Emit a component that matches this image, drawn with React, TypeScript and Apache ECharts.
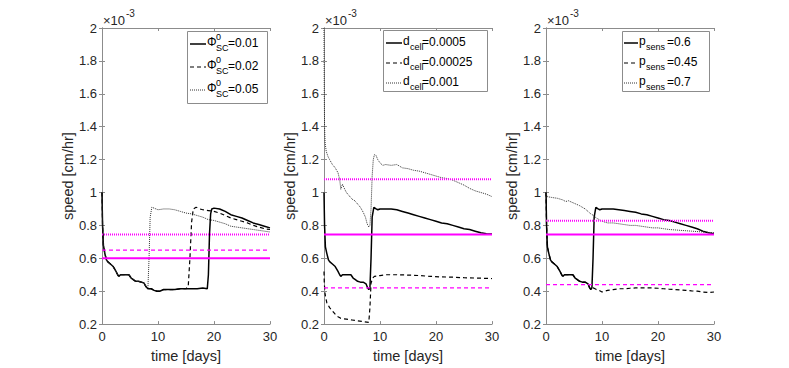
import React, { useEffect, useRef } from 'react';
import * as echarts from 'echarts';

// ---------- data (speed in units of 1e-3 cm/hr, time in days) ----------
const xTicks = [0, 10, 20, 30];
const yMin = 0.2;
const yMax = 2;

// Panel 1: Phi0_SC
const p1Solid = [[0,1.0],[0.1,0.8],[0.25,0.68],[0.5,0.63],[0.8,0.59],[1,0.58],[1.5,0.565],[2,0.55],[2.5,0.52],[2.8,0.5],[3,0.49],[3.3,0.5],[4,0.5],[4.8,0.5],[5.2,0.48],[5.6,0.47],[6,0.46],[6.5,0.46],[7,0.455],[7.5,0.45],[7.8,0.43],[8.2,0.415],[8.8,0.415],[9.3,0.405],[9.8,0.4],[10.3,0.4],[11,0.41],[12,0.41],[13,0.41],[14,0.415],[15,0.415],[16,0.415],[17,0.415],[18,0.42],[18.8,0.415],[19.0,0.5],[19.2,0.75],[19.4,0.87],[19.6,0.9],[20,0.905],[21,0.9],[22,0.885],[23,0.865],[24,0.855],[25,0.845],[26,0.83],[27,0.815],[28,0.805],[29,0.795],[30,0.785]];
const p1Dashed = [[0,1.0],[0.1,0.8],[0.25,0.68],[0.5,0.63],[0.8,0.59],[1,0.58],[1.5,0.565],[2,0.55],[2.5,0.52],[2.8,0.5],[3,0.49],[3.3,0.5],[4,0.5],[4.8,0.5],[5.2,0.48],[5.6,0.47],[6,0.46],[6.5,0.46],[7,0.455],[7.5,0.45],[7.8,0.43],[8.2,0.415],[8.8,0.415],[9.3,0.405],[9.8,0.4],[10.3,0.4],[11,0.41],[12,0.41],[13,0.41],[14,0.415],[15,0.415],[15.4,0.43],[15.7,0.6],[16.0,0.82],[16.3,0.9],[16.8,0.91],[17.5,0.9],[18,0.895],[19,0.89],[20,0.885],[21,0.875],[22,0.86],[23,0.845],[24,0.835],[25,0.825],[26,0.815],[27,0.8],[28,0.79],[29,0.78],[30,0.775]];
const p1Dotted = [[0,1.0],[0.1,0.8],[0.25,0.68],[0.5,0.63],[0.8,0.59],[1,0.58],[1.5,0.565],[2,0.55],[2.5,0.52],[2.8,0.5],[3,0.49],[3.3,0.5],[4,0.5],[4.8,0.5],[5.2,0.48],[5.6,0.47],[6,0.46],[6.5,0.46],[7,0.455],[7.5,0.45],[7.8,0.43],[8.2,0.42],[8.4,0.6],[8.6,0.85],[8.9,0.91],[9.3,0.905],[10,0.895],[11,0.9],[12,0.9],[13,0.895],[14,0.885],[15,0.875],[16,0.87],[17,0.86],[18,0.85],[19,0.835],[20,0.83],[21,0.82],[22,0.81],[23,0.795],[24,0.79],[25,0.785],[26,0.78],[27,0.775],[28,0.77],[29,0.765],[30,0.76]];
const p1Levels = [0.6, 0.65, 0.745];

// Panel 2: d_cell
const p2Solid = [[0,1.0],[0.1,0.8],[0.25,0.67],[0.5,0.63],[0.8,0.59],[1,0.58],[1.5,0.565],[2,0.55],[2.5,0.52],[2.8,0.5],[3,0.49],[3.3,0.5],[4,0.5],[4.8,0.5],[5.2,0.48],[5.6,0.47],[6,0.46],[6.5,0.455],[7,0.455],[7.5,0.445],[7.8,0.42],[8,0.41],[8.2,0.42],[8.4,0.6],[8.6,0.85],[8.9,0.91],[9.3,0.9],[9.6,0.895],[10,0.9],[11,0.9],[12,0.9],[13,0.895],[14,0.885],[15,0.875],[16,0.865],[17,0.855],[18,0.845],[19,0.835],[20,0.825],[21,0.815],[22,0.81],[23,0.8],[24,0.79],[25,0.78],[26,0.775],[27,0.765],[28,0.755],[29,0.75],[30,0.748]];
const p2Dashed = [[0,0.52],[0.05,0.45],[0.2,0.38],[0.5,0.33],[1,0.3],[1.5,0.28],[2,0.26],[2.5,0.245],[3,0.235],[4,0.23],[5,0.225],[6,0.22],[7,0.215],[8,0.21],[8.2,0.3],[8.4,0.45],[8.7,0.48],[9,0.49],[10,0.495],[11,0.5],[13,0.5],[15,0.498],[17,0.495],[19,0.49],[21,0.487],[23,0.485],[25,0.482],[27,0.48],[30,0.477]];
const p2Dotted = [[0,2.0],[0.05,1.6],[0.1,1.4],[0.2,1.3],[0.4,1.25],[0.7,1.22],[1,1.2],[1.5,1.17],[2,1.15],[2.5,1.12],[2.8,1.08],[3,1.02],[3.3,1.05],[3.7,1.02],[4,1.0],[4.5,0.98],[5,0.96],[5.5,0.95],[6,0.93],[6.5,0.91],[7,0.88],[7.4,0.85],[7.7,0.81],[8,0.79],[8.2,0.8],[8.4,0.9],[8.6,1.1],[8.8,1.2],[9,1.23],[9.3,1.225],[9.6,1.2],[10,1.18],[10.5,1.165],[11,1.17],[12,1.165],[13,1.17],[14,1.15],[15,1.145],[16,1.135],[17,1.13],[18,1.12],[19,1.11],[20,1.1],[21,1.09],[22,1.085],[23,1.075],[24,1.06],[25,1.045],[26,1.025],[27,1.01],[28,1.0],[29,0.99],[30,0.975]];
const p2Levels = [0.745, 0.42, 1.08];

// Panel 3: p_sens
const p3Solid = [[0,1.0],[0.1,0.8],[0.25,0.67],[0.5,0.63],[0.8,0.59],[1,0.58],[1.5,0.565],[2,0.55],[2.5,0.52],[2.8,0.5],[3,0.49],[3.3,0.5],[4,0.5],[4.8,0.5],[5.2,0.48],[5.6,0.47],[6,0.46],[6.5,0.455],[7,0.455],[7.5,0.445],[7.8,0.42],[8,0.41],[8.2,0.42],[8.4,0.6],[8.6,0.85],[8.9,0.91],[9.3,0.9],[9.6,0.895],[10,0.9],[11,0.9],[12,0.9],[13,0.895],[14,0.89],[15,0.885],[16,0.88],[17,0.87],[18,0.865],[19,0.855],[20,0.845],[21,0.835],[22,0.83],[23,0.82],[24,0.81],[25,0.8],[26,0.79],[27,0.78],[28,0.765],[29,0.755],[30,0.75]];
const p3Dashed = [[0,1.0],[0.1,0.8],[0.25,0.67],[0.5,0.63],[0.8,0.59],[1,0.58],[1.5,0.565],[2,0.55],[2.5,0.52],[2.8,0.5],[3,0.49],[3.3,0.5],[4,0.5],[4.8,0.5],[5.2,0.48],[5.6,0.47],[6,0.46],[6.5,0.455],[7,0.455],[7.5,0.445],[7.8,0.42],[8,0.415],[8.5,0.42],[9,0.41],[9.5,0.405],[10,0.395],[10.5,0.4],[11,0.405],[12,0.41],[13,0.415],[14,0.415],[15,0.418],[16,0.42],[17,0.42],[18,0.42],[19,0.42],[20,0.418],[21,0.415],[22,0.412],[23,0.41],[24,0.408],[25,0.405],[26,0.402],[27,0.4],[28,0.395],[29,0.392],[30,0.395]];
const p3Dotted = [[0,1.0],[0.2,0.975],[1,0.97],[2,0.965],[3,0.955],[3.5,0.945],[4,0.95],[5,0.935],[6,0.92],[7,0.9],[7.5,0.885],[8,0.87],[8.5,0.86],[9,0.845],[9.5,0.835],[10,0.825],[11,0.815],[12,0.815],[13,0.81],[14,0.805],[15,0.8],[16,0.8],[17,0.795],[18,0.79],[19,0.785],[20,0.785],[21,0.78],[22,0.775],[24,0.77],[26,0.765],[28,0.76],[30,0.755]];
const p3Levels = [0.745, 0.44, 0.828];

const legendBase = ['Φ', 'd', 'p'];
const legendSup = ['0', '', ''];
const legendSub = ['SC', 'cell', 'sens'];
const legendVals = [
  ['=0.01', '=0.02', '=0.05'],
  ['=0.0005', '=0.00025', '=0.001'],
  ['=0.6', '=0.45', '=0.7'],
];

const FONT = '"Liberation Sans", Arial, Helvetica, sans-serif';
const AXIS_COLOR = '#8c8c8c';
const TEXT_COLOR = '#262626';
const TICK_FS = 13;
const NAME_FS = 14.5;
const LEG_FS = 12;
const SUB_FS = 9;

const curves = [
  [p1Solid, p1Dashed, p1Dotted],
  [p2Solid, p2Dashed, p2Dotted],
  [p3Solid, p3Dashed, p3Dotted],
];
const levels = [p1Levels, p2Levels, p3Levels];

const gridLefts = [102, 324, 546];
const GRID_TOP = 28;
const GRID_W = 168;
const GRID_H = 299;

const blackStyles = [
  { color: '#000', width: 1.5, type: 'solid' as any },
  { color: '#000', width: 1.2, type: [4, 3] as any },
  { color: '#333', width: 1, type: [1, 1] as any },
];
const magentaStyles = [
  { color: '#ff00ff', width: 2, type: 'solid' as any },
  { color: '#ff00ff', width: 1.2, type: [4, 3] as any },
  { color: '#ff00ff', width: 2, type: [1, 1] as any },
];

const legendBoxes = [
  { x: 187, y: 31, w: 80, h: 72, rows: [44, 67, 90], lx1: 190, lx2: 206, bx: 207, sx: 216, vx: 228 },
  { x: 383, y: 30, w: 104, h: 61, rows: [43, 63, 83], lx1: 386, lx2: 402, bx: 403, sx: 410, vx: 422 },
  { x: 622, y: 31, w: 87, h: 60, rows: [43, 63, 83], lx1: 624, lx2: 638, bx: 639, sx: 646, vx: 667 },
];

function buildOption() {
  const grid: any[] = [];
  const xAxis: any[] = [];
  const yAxis: any[] = [];
  const series: any[] = [];
  const graphic: any[] = [];

  for (let i = 0; i < 3; i++) {
    grid.push({ left: gridLefts[i], top: GRID_TOP, width: GRID_W, height: GRID_H, containLabel: false });
    const common = {
      type: 'value',
      gridIndex: i,
      splitLine: { show: false },
      axisLine: { show: true, lineStyle: { color: AXIS_COLOR, width: 1 } },
      axisTick: { show: true, inside: true, length: 3, lineStyle: { color: AXIS_COLOR } },
    };
    xAxis.push({
      ...common,
      position: 'bottom',
      min: xTicks[0],
      max: xTicks[xTicks.length - 1],
      interval: 10,
      axisLabel: { color: TEXT_COLOR, fontSize: TICK_FS, fontFamily: FONT, margin: 6 },
      name: 'time [days]',
      nameLocation: 'middle',
      nameGap: 23,
      nameTextStyle: { color: TEXT_COLOR, fontSize: NAME_FS, fontFamily: FONT },
    });
    xAxis.push({
      ...common,
      position: 'top',
      min: xTicks[0],
      max: xTicks[xTicks.length - 1],
      interval: 10,
      axisLabel: { show: false },
    });
    yAxis.push({
      ...common,
      position: 'left',
      min: yMin,
      max: yMax,
      interval: 0.2,
      axisLabel: {
        color: TEXT_COLOR, fontSize: TICK_FS, fontFamily: FONT, margin: 5,
        formatter: (v: number) => String(parseFloat(v.toFixed(1))),
      },
      name: 'speed [cm/hr]',
      nameLocation: 'middle',
      nameGap: 25,
      nameTextStyle: { color: TEXT_COLOR, fontSize: NAME_FS, fontFamily: FONT },
    });
    yAxis.push({
      ...common,
      position: 'right',
      min: yMin,
      max: yMax,
      interval: 0.2,
      axisLabel: { show: false },
    });

    curves[i].forEach((d, k) => {
      series.push({
        type: 'line',
        name: `p${i}c${k}`,
        xAxisIndex: 2 * i,
        yAxisIndex: 2 * i,
        data: d,
        showSymbol: false,
        symbol: 'none',
        lineStyle: blackStyles[k],
        z: 2 + k,
        silent: true,
      });
    });
    levels[i].forEach((lv, k) => {
      series.push({
        type: 'line',
        name: `p${i}m${k}`,
        xAxisIndex: 2 * i,
        yAxisIndex: 2 * i,
        data: [[xTicks[0], lv], [xTicks[xTicks.length - 1], lv]],
        showSymbol: false,
        symbol: 'none',
        lineStyle: magentaStyles[k],
        z: 6,
        silent: true,
      });
    });

    // x10^-3 label
    graphic.push({
      type: 'text', x: gridLefts[i] + 1, y: 20, z: 100,
      style: { text: '×10', fontSize: TICK_FS, fontFamily: FONT, fill: TEXT_COLOR, verticalAlign: 'middle', align: 'left' },
    });
    graphic.push({
      type: 'text', x: gridLefts[i] + 24, y: 13, z: 100,
      style: { text: '-3', fontSize: 10, fontFamily: FONT, fill: TEXT_COLOR, verticalAlign: 'middle', align: 'left' },
    });

    // legend
    const L = legendBoxes[i];
    graphic.push({
      type: 'rect', z: 100,
      shape: { x: L.x + 0.5, y: L.y + 0.5, width: L.w, height: L.h },
      style: { fill: '#fff', stroke: '#8c8c8c', lineWidth: 1 },
    });
    L.rows.forEach((ry, k) => {
      const st = blackStyles[k];
      graphic.push({
        type: 'line', z: 101,
        shape: { x1: L.lx1, y1: ry, x2: L.lx2, y2: ry },
        style: { stroke: st.color, lineWidth: st.width, lineDash: Array.isArray(st.type) ? st.type : null },
      });
      graphic.push({
        type: 'text', x: L.bx, y: ry - 2, z: 101,
        style: { text: legendBase[i], fontSize: LEG_FS, fontFamily: FONT, fill: '#000', verticalAlign: 'middle', align: 'left' },
      });
      if (legendSup[i]) {
        graphic.push({
          type: 'text', x: L.sx, y: ry - 7, z: 101,
          style: { text: legendSup[i], fontSize: SUB_FS, fontFamily: FONT, fill: '#000', verticalAlign: 'middle', align: 'left' },
        });
      }
      graphic.push({
        type: 'text', x: L.sx, y: ry + 4, z: 101,
        style: { text: legendSub[i], fontSize: SUB_FS, fontFamily: FONT, fill: '#000', verticalAlign: 'middle', align: 'left' },
      });
      graphic.push({
        type: 'text', x: L.vx, y: ry - 1, z: 101,
        style: { text: legendVals[i][k], fontSize: LEG_FS, fontFamily: FONT, fill: '#000', verticalAlign: 'middle', align: 'left' },
      });
    });
  }

  return {
    animation: false,
    backgroundColor: '#fff',
    grid, xAxis, yAxis, series, graphic,
  };
}

export default function App() {
  const ref = useRef<HTMLDivElement>(null);
  useEffect(() => {
    if (!ref.current) return;
    const chart = echarts.init(ref.current, undefined, { renderer: 'svg' });
    chart.setOption(buildOption() as any);
    return () => chart.dispose();
  }, []);
  return (
    <div
      ref={ref}
      style={{ position: 'fixed', left: 0, top: 0, width: 789, height: 368, background: '#fff' }}
    />
  );
}
